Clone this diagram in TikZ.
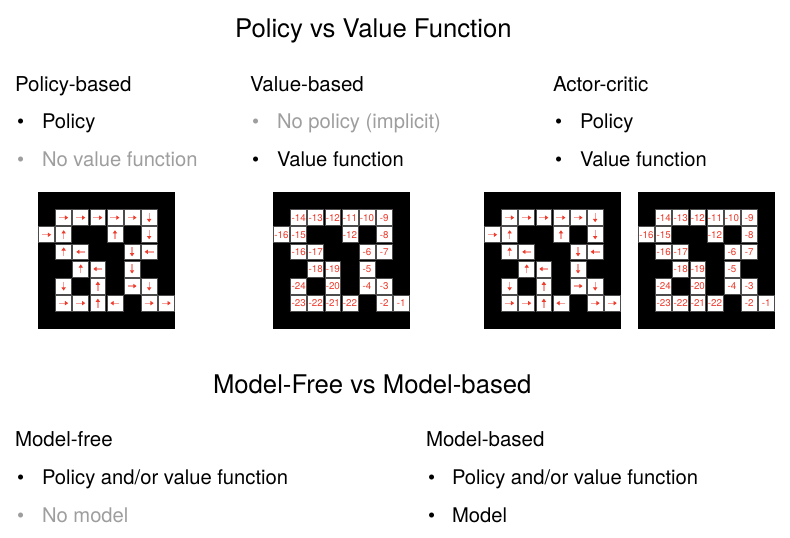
\documentclass[tikz,border=0pt]{standalone}
\usepackage{fontspec}
\setmainfont{TeX Gyre Heros}
\usetikzlibrary{arrows.meta,calc}

\definecolor{dimtext}{gray}{0.62}
\definecolor{cellred}{HTML}{EE3B2C}
\definecolor{shaftred}{HTML}{F5A09A}

% cell pitch of the grid worlds
\newcommand\cs{17.1}

\tikzset{
  txt/.style={anchor=base west, inner sep=0pt, outer sep=0pt},
  bigtitle/.style={txt, font=\fontsize{25.7}{30}\selectfont},
  head/.style={txt, font=\fontsize{20.5}{24}\selectfont},
  item/.style={txt, font=\fontsize{20.2}{24}\selectfont},
  dim/.style={text=dimtext},
  cellbox/.style={fill=white, draw=gray!60!black, line width=0.8pt},
  policyarrow/.style={shaftred, line width=1.3pt,
    -{Triangle[length=3.2pt,width=4.2pt,color=cellred]}},
  valtext/.style={text=cellred, inner sep=0pt, font=\fontsize{9.8}{10}\selectfont},
}

% black world with its open squares
\newcommand\worldbase[1]{%
  \fill[black] (0,0) rectangle (137,137);
  \foreach \c/\r in {1/1,2/1,3/1,4/1,5/1,6/1,
                     0/2,1/2,4/2,6/2,
                     1/3,2/3,5/3,6/3,
                     2/4,3/4,5/4,
                     1/5,3/5,5/5,6/5,
                     1/6,2/6,3/6,4/6,6/6,7/6}{
    \filldraw[cellbox] ({\c*\cs+0.6},{\r*\cs+0.6}) rectangle ++({\cs-1.2},{\cs-1.2});
  }}

% greedy action in every open square (dx/dy: screen direction)
\newcommand\policyworld[2]{%
  \begin{scope}[shift={(#2,192)}]
    \worldbase{#1}
    \foreach \c/\r/\dx/\dy in {1/1/1/0,2/1/1/0,3/1/1/0,4/1/1/0,5/1/1/0,6/1/0/1,
                               0/2/1/0,1/2/0/-1,4/2/0/-1,6/2/0/1,
                               1/3/0/-1,2/3/-1/0,5/3/0/1,6/3/-1/0,
                               2/4/0/-1,3/4/-1/0,5/4/0/1,
                               1/5/0/1,3/5/0/-1,5/5/1/0,6/5/0/1,
                               1/6/1/0,2/6/1/0,3/6/0/-1,4/6/-1/0,6/6/1/0,7/6/1/0}{
      \coordinate (#1-\c-\r) at ({(\c+0.5)*\cs},{(\r+0.5)*\cs});
      \draw[policyarrow] ($(#1-\c-\r)+({-4.5*\dx},{-4.5*\dy})$) -- ++({9*\dx},{9*\dy});
    }
  \end{scope}}

% state values in every open square
\newcommand\valueworld[2]{%
  \begin{scope}[shift={(#2,192)}]
    \worldbase{#1}
    \foreach \c/\r/\v in {1/1/-14,2/1/-13,3/1/-12,4/1/-11,5/1/-10,6/1/-9,
                          0/2/-16,1/2/-15,4/2/-12,6/2/-8,
                          1/3/-16,2/3/-17,5/3/-6,6/3/-7,
                          2/4/-18,3/4/-19,5/4/-5,
                          1/5/-24,3/5/-20,5/5/-4,6/5/-3,
                          1/6/-23,2/6/-22,3/6/-21,4/6/-22,6/6/-2,7/6/-1}{
      \node[valtext] (#1-\c-\r) at ({(\c+0.5)*\cs},{(\r+0.5)*\cs}) {\v};
    }
  \end{scope}}

\begin{document}
\begin{tikzpicture}[x=1pt, y=-1pt]
  \fill[white] (0,0) rectangle (790,538);
  \useasboundingbox (0,0) rectangle (790,538);

  % ---- Policy vs value function ----
  \node[bigtitle] (t1) at (235,37) {Policy vs Value Function};

  \node[head] (h1) at (15,91) {Policy-based};
  \node[item] (b11) at (17,128) {\textbullet};
  \node[item] (i11) at (42,128) {Policy};
  \node[item, dim] (b12) at (17,166) {\textbullet};
  \node[item, dim] (i12) at (42,166) {No value function};

  \node[head] (h2) at (250,91) {Value-based};
  \node[item, dim] (b21) at (252,128) {\textbullet};
  \node[item, dim] (i21) at (277,128) {No policy (implicit)};
  \node[item] (b22) at (252,166) {\textbullet};
  \node[item] (i22) at (277,166) {Value function};

  \node[head] (h3) at (553,91) {Actor-critic};
  \node[item] (b31) at (555,128) {\textbullet};
  \node[item] (i31) at (580,128) {Policy};
  \node[item] (b32) at (555,166) {\textbullet};
  \node[item] (i32) at (580,166) {Value function};

  \policyworld{pa}{38}
  \valueworld{va}{273}
  \policyworld{pb}{484}
  \valueworld{vb}{638}

  % ---- Model-free vs model-based ----
  \node[bigtitle] (t2) at (213,393) {Model-Free vs Model-based};

  \node[head] (h4) at (15,446) {Model-free};
  \node[item] (b41) at (17,484) {\textbullet};
  \node[item] (i41) at (42,484) {Policy and/or value function};
  \node[item, dim] (b42) at (17,522) {\textbullet};
  \node[item, dim] (i42) at (42,522) {No model};

  \node[head] (h5) at (426,446) {Model-based};
  \node[item] (b51) at (428,484) {\textbullet};
  \node[item] (i51) at (452,484) {Policy and/or value function};
  \node[item] (b52) at (428,522) {\textbullet};
  \node[item] (i52) at (452,522) {Model};
\end{tikzpicture}
\end{document}
